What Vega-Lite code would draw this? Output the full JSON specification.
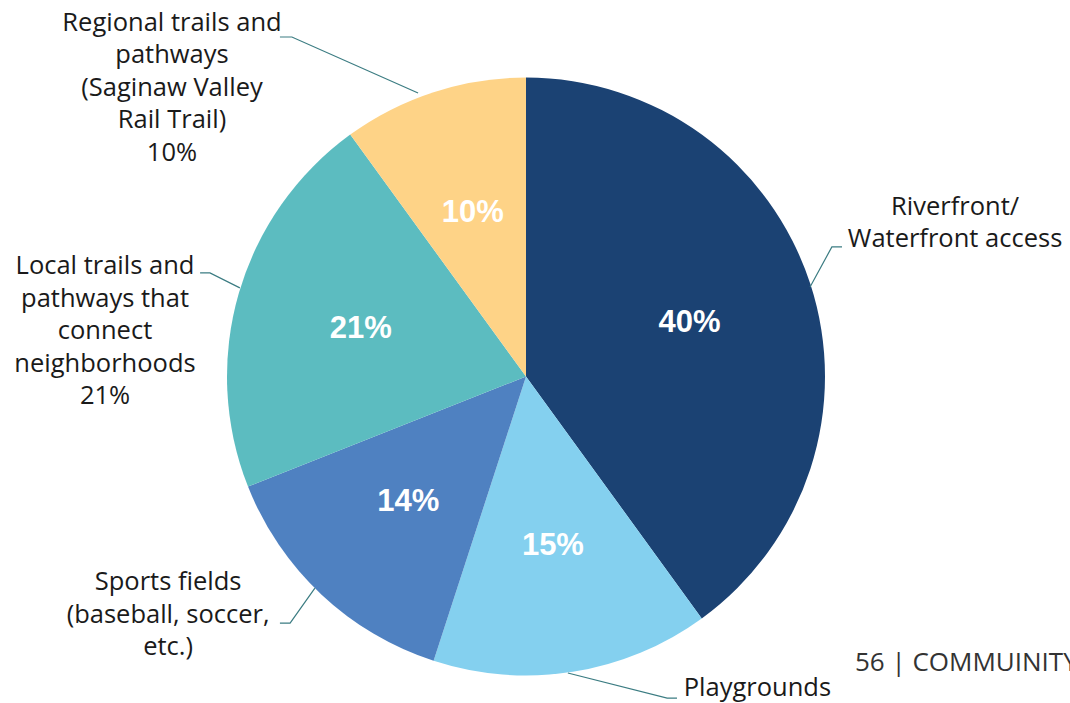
{
  "$schema": "https://vega.github.io/schema/vega-lite/v6.json",
  "autosize": {"type": "none"},
  "width": 1052,
  "height": 653,
  "padding": {"left": 0, "top": 50, "right": 18, "bottom": 0},
  "background": "white",
  "config": {"view": {"stroke": null}},
  "datasets": {
    "slices": [
      {"category": "Riverfront/ Waterfront access", "share": 0.40, "order": 1, "label": ["Riverfront/", "Waterfront access"], "lx": 1.435, "ly": 0.569},
      {"category": "Playgrounds", "share": 0.15, "order": 2, "label": ["Playgrounds"], "lx": 0.774, "ly": -1.040},
      {"category": "Sports fields (baseball, soccer, etc.)", "share": 0.14, "order": 3, "label": ["Sports fields", "(baseball, soccer,", "etc.)"], "lx": -1.197, "ly": -0.686},
      {"category": "Local trails and pathways that connect neighborhoods", "share": 0.21, "order": 4, "label": ["Local trails and", "pathways that", "connect", "neighborhoods", "21%"], "lx": -1.408, "ly": 0.371},
      {"category": "Regional trails and pathways (Saginaw Valley Rail Trail)", "share": 0.10, "order": 5, "label": ["Regional trails and", "pathways", "(Saginaw Valley", "Rail Trail)", "10%"], "lx": -1.184, "ly": 1.184}
    ],
    "leaders": [
      {"category": "Riverfront", "seq": 1, "x": 1.057, "y": 0.435},
      {"category": "Riverfront", "seq": 2, "x": 1.023, "y": 0.435},
      {"category": "Riverfront", "seq": 3, "x": 0.950, "y": 0.301},
      {"category": "Playgrounds", "seq": 1, "x": 0.140, "y": -0.990},
      {"category": "Playgrounds", "seq": 2, "x": 0.472, "y": -1.074},
      {"category": "Playgrounds", "seq": 3, "x": 0.505, "y": -1.074},
      {"category": "Sports", "seq": 1, "x": -0.823, "y": -0.823},
      {"category": "Sports", "seq": 2, "x": -0.789, "y": -0.823},
      {"category": "Sports", "seq": 3, "x": -0.706, "y": -0.706},
      {"category": "Local", "seq": 1, "x": -1.090, "y": 0.348},
      {"category": "Local", "seq": 2, "x": -1.057, "y": 0.348},
      {"category": "Local", "seq": 3, "x": -0.957, "y": 0.298},
      {"category": "Regional", "seq": 1, "x": -0.361, "y": 0.950},
      {"category": "Regional", "seq": 2, "x": -0.783, "y": 1.137},
      {"category": "Regional", "seq": 3, "x": -0.823, "y": 1.137}
    ],
    "notes": [
      {"note": "56 | COMMUINITY", "x": 1.100, "y": -0.957}
    ]
  },
  "layer": [
    {
      "data": {"name": "slices"},
      "mark": {"type": "arc", "radius": 299, "stroke": null},
      "encoding": {
        "theta": {"field": "share", "type": "quantitative", "stack": true},
        "order": {"field": "order", "type": "quantitative"},
        "color": {
          "field": "category", "type": "nominal", "legend": null,
          "scale": {
            "domain": ["Riverfront/ Waterfront access", "Playgrounds", "Sports fields (baseball, soccer, etc.)", "Local trails and pathways that connect neighborhoods", "Regional trails and pathways (Saginaw Valley Rail Trail)"],
            "range": ["#1B4273", "#84D0EF", "#4F81C1", "#5CBCC0", "#FED387"]
          }
        }
      }
    },
    {
      "data": {"name": "slices"},
      "mark": {"type": "text", "radius": 172, "font": "Liberation Sans", "fontWeight": "bold", "fontSize": 31, "fill": "white", "align": "center", "baseline": "middle"},
      "encoding": {
        "theta": {"field": "share", "type": "quantitative", "stack": true},
        "order": {"field": "order", "type": "quantitative"},
        "text": {"field": "share", "type": "quantitative", "format": ".0%"}
      }
    },
    {
      "data": {"name": "leaders"},
      "mark": {"type": "line", "stroke": "#3B7C82", "strokeWidth": 1.2, "interpolate": "linear"},
      "encoding": {
        "x": {"field": "x", "type": "quantitative", "axis": null, "scale": {"domain": [-1.7592, 1.7592], "nice": false, "zero": false}},
        "y": {"field": "y", "type": "quantitative", "axis": null, "scale": {"domain": [-1.0903, 1.0936], "nice": false, "zero": false}},
        "detail": {"field": "category"},
        "order": {"field": "seq", "type": "quantitative"}
      }
    },
    {
      "data": {"name": "slices"},
      "mark": {"type": "text", "font": "Open Sans", "fontSize": 25.5, "lineHeight": 32.5, "fill": "#1A1A1A", "align": "center", "baseline": "middle"},
      "encoding": {
        "x": {"field": "lx", "type": "quantitative"},
        "y": {"field": "ly", "type": "quantitative"},
        "text": {"field": "label"}
      }
    },
    {
      "data": {"name": "notes"},
      "mark": {"type": "text", "font": "Open Sans", "fontSize": 26, "fill": "#333333", "align": "left", "baseline": "middle"},
      "encoding": {
        "x": {"field": "x", "type": "quantitative"},
        "y": {"field": "y", "type": "quantitative"},
        "text": {"field": "note"}
      }
    }
  ]
}
